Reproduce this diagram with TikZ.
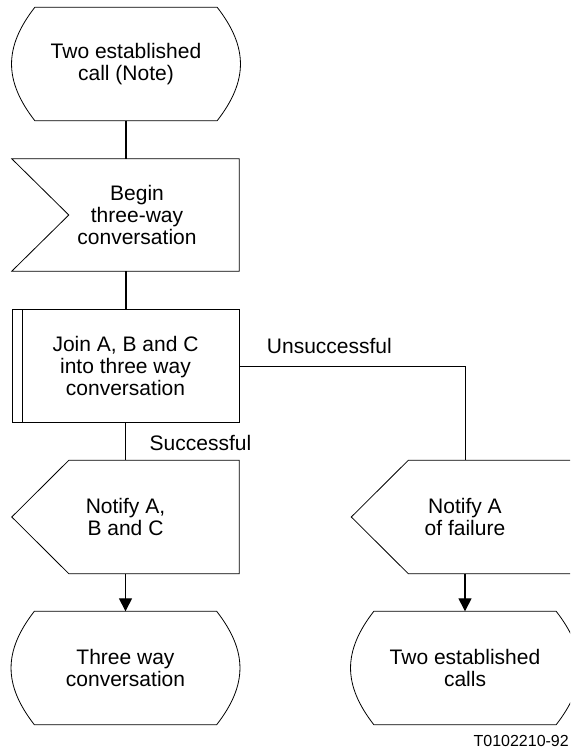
\documentclass[tikz,border=0pt]{standalone}
\usepackage{fontspec}
\setmainfont{Liberation Sans}
\usetikzlibrary{arrows.meta}
\tikzstyle{state} = [rectangle, minimum width=182pt, minimum height=113pt, align=center]
\tikzstyle{input} = [rectangle, minimum width=204pt, minimum height=112pt, align=center]
\tikzstyle{task} = [rectangle, draw, line width=0.8pt, minimum width=227pt,
    minimum height=113pt, align=center]
\tikzstyle{output} = [rectangle, minimum width=227pt, minimum height=113pt, align=center]
\tikzstyle{outline} = [draw, line width=0.8pt]
\tikzstyle{line} = [draw, line width=1.4pt]
\tikzstyle{arrow} = [draw, line width=1.4pt, -{Triangle[width=13pt,length=13pt]}]

\begin{document}
\begin{tikzpicture}[x=1pt, y=1pt, node distance = 151pt,
    font=\fontsize{21}{22}\selectfont]
        \useasboundingbox (0,0) rectangle (570,749);
        \clip (0,0) rectangle (570,749);
        % Place nodes
        \node [state] (top) at (126,685) {Two established\\call (Note)};
        \node [input, below of=top, xshift=11pt] (begin) {Begin\\three-way\\conversation};
        \node [task, below of=begin, xshift=-11.5pt] (join) {Join A, B and C\\into three way\\conversation};
        \node [output, below of=join] (notify) {Notify A,\\B and C};
        \node [state, below of=notify] (three) {Three way\\conversation};
        \node [output, right of=notify, node distance=339.5pt] (fail) {Notify A\\of failure};
        \node [state, below of=fail] (two) {Two established\\calls};
        % Branch labels
        \node (unsucc) at ([xshift=90pt, yshift=20pt]join.east) {Unsuccessful};
        \node (succ) at ([xshift=75pt, yshift=-20pt]join.south) {Successful};
        \node [anchor=east, inner xsep=1pt, font=\fontsize{16}{17}\selectfont] (fig) at (570,8) {T0102210-92};
        % Draw outlines
        \foreach \n in {top, three, two}
            \path [outline] (\n.north west) -- (\n.north east)
                .. controls ([shift={(31pt,-40pt)}]\n.north east) and ([shift={(31pt,40pt)}]\n.south east) .. (\n.south east)
                -- (\n.south west)
                .. controls ([shift={(-31pt,40pt)}]\n.south west) and ([shift={(-31pt,-40pt)}]\n.north west) .. (\n.north west)
                -- cycle;
        \path [outline] (begin.north east) -- (begin.south east) -- ([xshift=-23pt]begin.south west)
            -- ([xshift=34pt]begin.west) -- ([xshift=-23pt]begin.north west) -- cycle;
        \path [outline] ([xshift=11pt]join.north west) -- ([xshift=11pt]join.south west);
        \foreach \n in {notify, fail}
            \path [outline] (\n.north east) -- (\n.south east) -- ([xshift=57pt]\n.south west)
                -- (\n.west) -- ([xshift=57pt]\n.north west) -- cycle;
        % Draw edges
        \path [line] (top.south) -- (begin.north -| top.south);
        \path [line] (begin.south -| top.south) -- (join.north -| top.south);
        \path [line] (join.south) -- (notify.north);
        \path [arrow] (notify.south) -- (three.north);
        \path [line, line width=0.9pt] (join.east) -| (fail.north);
        \path [arrow] (fail.south) -- (two.north);
    \end{tikzpicture}
\end{document}
